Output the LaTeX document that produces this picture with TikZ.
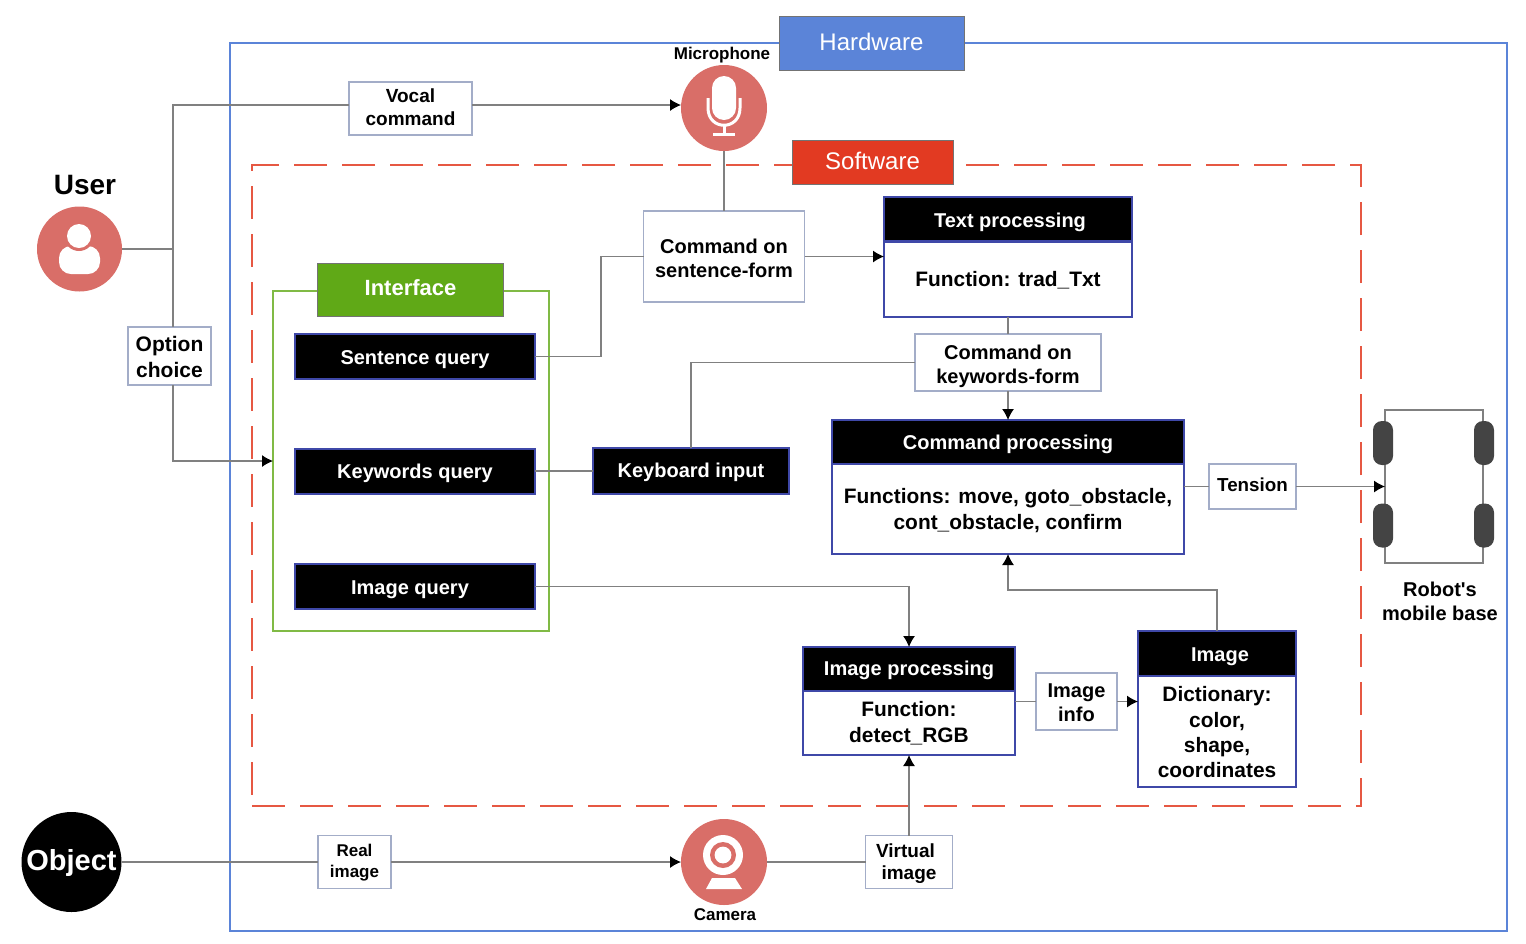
\documentclass[tikz,border=0pt]{standalone}
\usepackage{fontspec}
\defaultfontfeatures[\rmfamily]{Scale=1}
\setmainfont{Liberation Sans}
\usepackage{xcolor}
\usepackage{tikz}
\usetikzlibrary{arrows.meta}
\definecolor{hwblue}{HTML}{5B84D8}
\definecolor{swred}{HTML}{E23A22}
\definecolor{ifgreen}{HTML}{60A917}
\definecolor{iconred}{HTML}{D96E68}
\definecolor{navyframe}{HTML}{3F48A8}
\definecolor{labelframe}{HTML}{A3ADC8}
\definecolor{wireline}{HTML}{808080}
\definecolor{wheelgray}{HTML}{444444}
\newcommand{\txtdn}[1]{\raisebox{#1}{\vphantom{Ag}}}
\newcommand{\txtup}[1]{\raisebox{-#1}{\vphantom{A}}}
\tikzset{
  txt/.style={font=\fontsize{10}{12}\selectfont\bfseries, align=center, inner sep=0pt, outer sep=0pt},
  labelbox/.style={txt, draw=labelframe, fill=white, line width=0.7pt},
  headbox/.style={txt, draw=navyframe, fill=black, text=white, line width=1pt},
  bodybox/.style={txt, draw=navyframe, fill=white, line width=1pt, font=\fontsize{10.45}{13}\selectfont\bfseries},
  tagbox/.style={inner sep=0pt, outer sep=0pt, text=white, draw=black!55, line width=0.5pt, font=\fontsize{12}{14}\selectfont},
  iconcircle/.style={circle, fill=iconred, inner sep=0pt, outer sep=0pt, minimum size=#1},
  wire/.style={draw=wireline, line width=0.6pt},
  wirearrow/.style={wire, -{Latex[length=5.5pt,width=6pt,black]}},
  wheel/.style={rounded corners=4.5pt, fill=wheelgray, inner sep=0pt, outer sep=0pt, minimum width=10pt, minimum height=22pt},
}

\begin{document}
\begin{tikzpicture}[x=0.5pt, y=-0.5pt]
  \useasboundingbox (0,0) rectangle (1526,943);

  % frames
  \node[draw=hwblue, line width=0.8pt, minimum width=638.5pt, minimum height=444pt, outer sep=0pt] (hwframe) at (868.5,487) {};
  \node[draw=swred!85!white, line width=0.7pt, dash pattern=on 16.5pt off 7.5pt, minimum width=554.5pt, minimum height=320.5pt, outer sep=0pt] (swframe) at (806.5,485.5) {};
  \node[draw=ifgreen!80!white, line width=0.7pt, minimum width=138pt, minimum height=170pt, outer sep=0pt] (iface) at (411,461) {};
  \node[tagbox, fill=hwblue, minimum width=92.5pt, minimum height=27pt] (hwtag) at (871.5,43) {\txtup{1pt}Hardware};
  \node[tagbox, fill=swred, minimum width=80.5pt, minimum height=22pt] (swtag) at (872.5,162) {\txtup{1pt}Software};
  \node[tagbox, fill=ifgreen, minimum width=93pt, minimum height=26.5pt, font=\fontsize{11}{13}\selectfont\bfseries] (iftag) at (410.5,289.5) {\txtup{2pt}Interface};

  % round icons
  \node[iconcircle=42.5pt] (user) at (79.5,249) {};
  \node[iconcircle=43pt] (mic) at (724,108) {};
  \node[iconcircle=43pt] (cam) at (724,862) {};
  \node[circle, fill=black, inner sep=0pt, outer sep=0pt, minimum size=50pt] (object) at (71.5,862) {};
  \node[txt, text=white, font=\fontsize{14.5}{16}\selectfont\bfseries] (objecttxt) at (71.5,863) {Object};
  \node[txt, font=\fontsize{14}{16}\selectfont\bfseries] (usertxt) at (85,185) {User};
  \node[txt, font=\fontsize{8.5}{10}\selectfont\bfseries] (mictxt) at (722,55) {Microphone};
  \node[txt, font=\fontsize{8.5}{10}\selectfont\bfseries] (camtxt) at (725,915) {Camera};

  % person
  \fill[white, rounded corners=6pt] (59,246) rectangle (100,274);
  \fill[iconred] (79,236) circle[radius=7.5pt];
  \fill[white] (79,236) circle[radius=6pt];

  % microphone
  \fill[white, rounded corners=6pt] (712,76) rectangle (736,120);
  \draw[white, line width=1.5pt] (708,98) -- (708,108) .. controls (708,131) and (740,131) .. (740,108) -- (740,98);
  \draw[white, line width=1.5pt] (724,125) -- (724,134);
  \draw[white, line width=1.5pt] (713,134) -- (735,134);

  % camera
  \fill[white] (723,855) circle[radius=10pt];
  \fill[iconred] (723,855) circle[radius=6.5pt];
  \fill[white] (723,855) circle[radius=4.2pt];
  \fill[white] (712,878) -- (735,878) -- (742,889) -- (706,889) -- cycle;

  % queries
  \foreach \nm/\yy/\tx in {sentq/356.5/Sentence query, keyq/471/Keywords query, imgq/586.5/Image query\hspace*{5pt}}{
    \node[headbox, minimum width=120pt, minimum height=22.5pt] (\nm) at (415,\yy) {\txtdn{3pt}\tx};
  }
  \node[headbox, minimum width=98pt, minimum height=23pt] (kbd) at (691,471) {\txtdn{2pt}Keyboard input};

  % processing blocks
  \node[bodybox, minimum width=124pt, minimum height=37.5pt] (txtb) at (1008,279) {\txtdn{2pt}Function: trad\_Txt};
  \node[headbox, minimum width=124pt, minimum height=22pt] (txth) at (1008,219) {\txtdn{4pt}\hspace*{2pt}Text processing};
  \node[bodybox, minimum width=176pt, minimum height=45pt] (cmdb) at (1008,509) {\txtdn{2pt}Functions: move, goto\_obstacle,\\cont\_obstacle, confirm};
  \node[headbox, minimum width=176pt, minimum height=22pt] (cmdh) at (1008,442) {\txtdn{3pt}Command processing};
  \node[bodybox, minimum width=106pt, minimum height=32pt] (impb) at (909,723) {\txtdn{1pt}Function:\\detect\_RGB};
  \node[headbox, minimum width=106pt, minimum height=22pt] (imph) at (909,669) {\txtdn{2pt}Image processing};
  \node[bodybox, minimum width=79pt, minimum height=55.5pt, font=\fontsize{10.45}{12.6}\selectfont\bfseries] (imgb) at (1217,731.5) {\txtdn{1pt}Dictionary:\\color,\\shape,\\coordinates};
  \node[headbox, minimum width=79pt, minimum height=22.5pt] (imgh) at (1217,653.5) {\txtdn{3pt}\hspace*{3pt}Image};

  % labels
  \node[labelbox, minimum width=61.5pt, minimum height=26.5pt, font=\fontsize{9.5}{11.5}\selectfont\bfseries] (vocal) at (410.5,108.5) {Vocal\\command\txtup{1pt}};
  \node[labelbox, minimum width=41.5pt, minimum height=29pt, font=\fontsize{10.5}{13}\selectfont\bfseries] (opt) at (169.5,356) {\txtdn{1pt}Option\\choice};
  \node[labelbox, minimum width=80.5pt, minimum height=45.5pt] (cmds) at (724,256.5) {\txtdn{2pt}Command on\\sentence-form};
  \node[labelbox, minimum width=93pt, minimum height=28.5pt] (cmdk) at (1008,362.5) {\txtdn{4pt}Command on\\keywords-form};
  \node[labelbox, minimum width=43.5pt, minimum height=22.5pt, font=\fontsize{9.4}{11}\selectfont\bfseries] (tens) at (1252.5,486.5) {\txtup{2pt}Tension};
  \node[labelbox, minimum width=40.5pt, minimum height=28.5pt] (info) at (1076.5,701.5) {\txtdn{1pt}Image\\info};
  \node[labelbox, minimum width=36.5pt, minimum height=26.5pt, font=\fontsize{8.5}{10.5}\selectfont\bfseries] (real) at (354.5,862) {\txtdn{1pt}Real\\image};
  \node[labelbox, minimum width=43.5pt, minimum height=26.5pt, font=\fontsize{9.5}{11}\selectfont\bfseries] (virt) at (909,862) {\txtdn{2pt}Virtual\hspace*{3.5pt}\\image};

  % robot base
  \node[draw=wireline, line width=0.6pt, minimum width=49pt, minimum height=76.5pt, outer sep=0pt] (robot) at (1434,486.5) {};
  \foreach \nm/\xx/\yy in {wa/1383/443, wb/1383/525.5, wc/1484/443, wd/1484/525.5}{
    \node[wheel] (\nm) at (\xx,\yy) {};
  }
  \node[txt] (robottxt) at (1440,601) {Robot's\\mobile base};

  % junctions
  \coordinate (userj) at (173,249);
  \coordinate (sentj) at (601,300);
  \coordinate (imgj) at (1108,590);

  % connectors
  \draw[wire] (user) -- (userj);
  \draw[wire] (userj) |- ([yshift=1.75pt]vocal.west);
  \draw[wirearrow] ([yshift=1.75pt]vocal.east) -- ([yshift=1.75pt]vocal.east -| mic.west);
  \draw[wire] (userj) -- (userj |- opt.north);
  \draw[wirearrow] (userj |- opt.south) |- (iface.west);
  \draw[wire] (mic.south) -- (mic.south |- cmds.north);
  \draw[wirearrow] (cmds.east) -- (cmds.east -| txtb.west);
  \draw[wire] (sentq.east) -| (sentj) |- (cmds.west);
  \draw[wire] (txtb.south) -- (cmdk.north);
  \draw[wirearrow] (cmdk.south) -- (cmdh.north);
  \draw[wire] (cmdk.west) -| (kbd.north);
  \draw[wire] (keyq.east) -- (kbd.west);
  \draw[wire] (tens.west -| cmdb.east) -- (tens.west);
  \draw[wirearrow] (tens.east) -- (tens.east -| robot.west);
  \draw[wirearrow] (imgq.east) -| (imph.north);
  \draw[wire] (info.west -| impb.east) -- (info.west);
  \draw[wirearrow] (info.east) -- (info.east -| imgb.west);
  \draw[wirearrow] (imgh.north) |- (imgj) -| (cmdb.south);
  \draw[wire] (object) -- (real.west);
  \draw[wirearrow] (real.east) -- (cam.west);
  \draw[wire] (cam.east) -- (virt.west);
  \draw[wirearrow] (virt.north) -- (impb.south);
\end{tikzpicture}
\end{document}
